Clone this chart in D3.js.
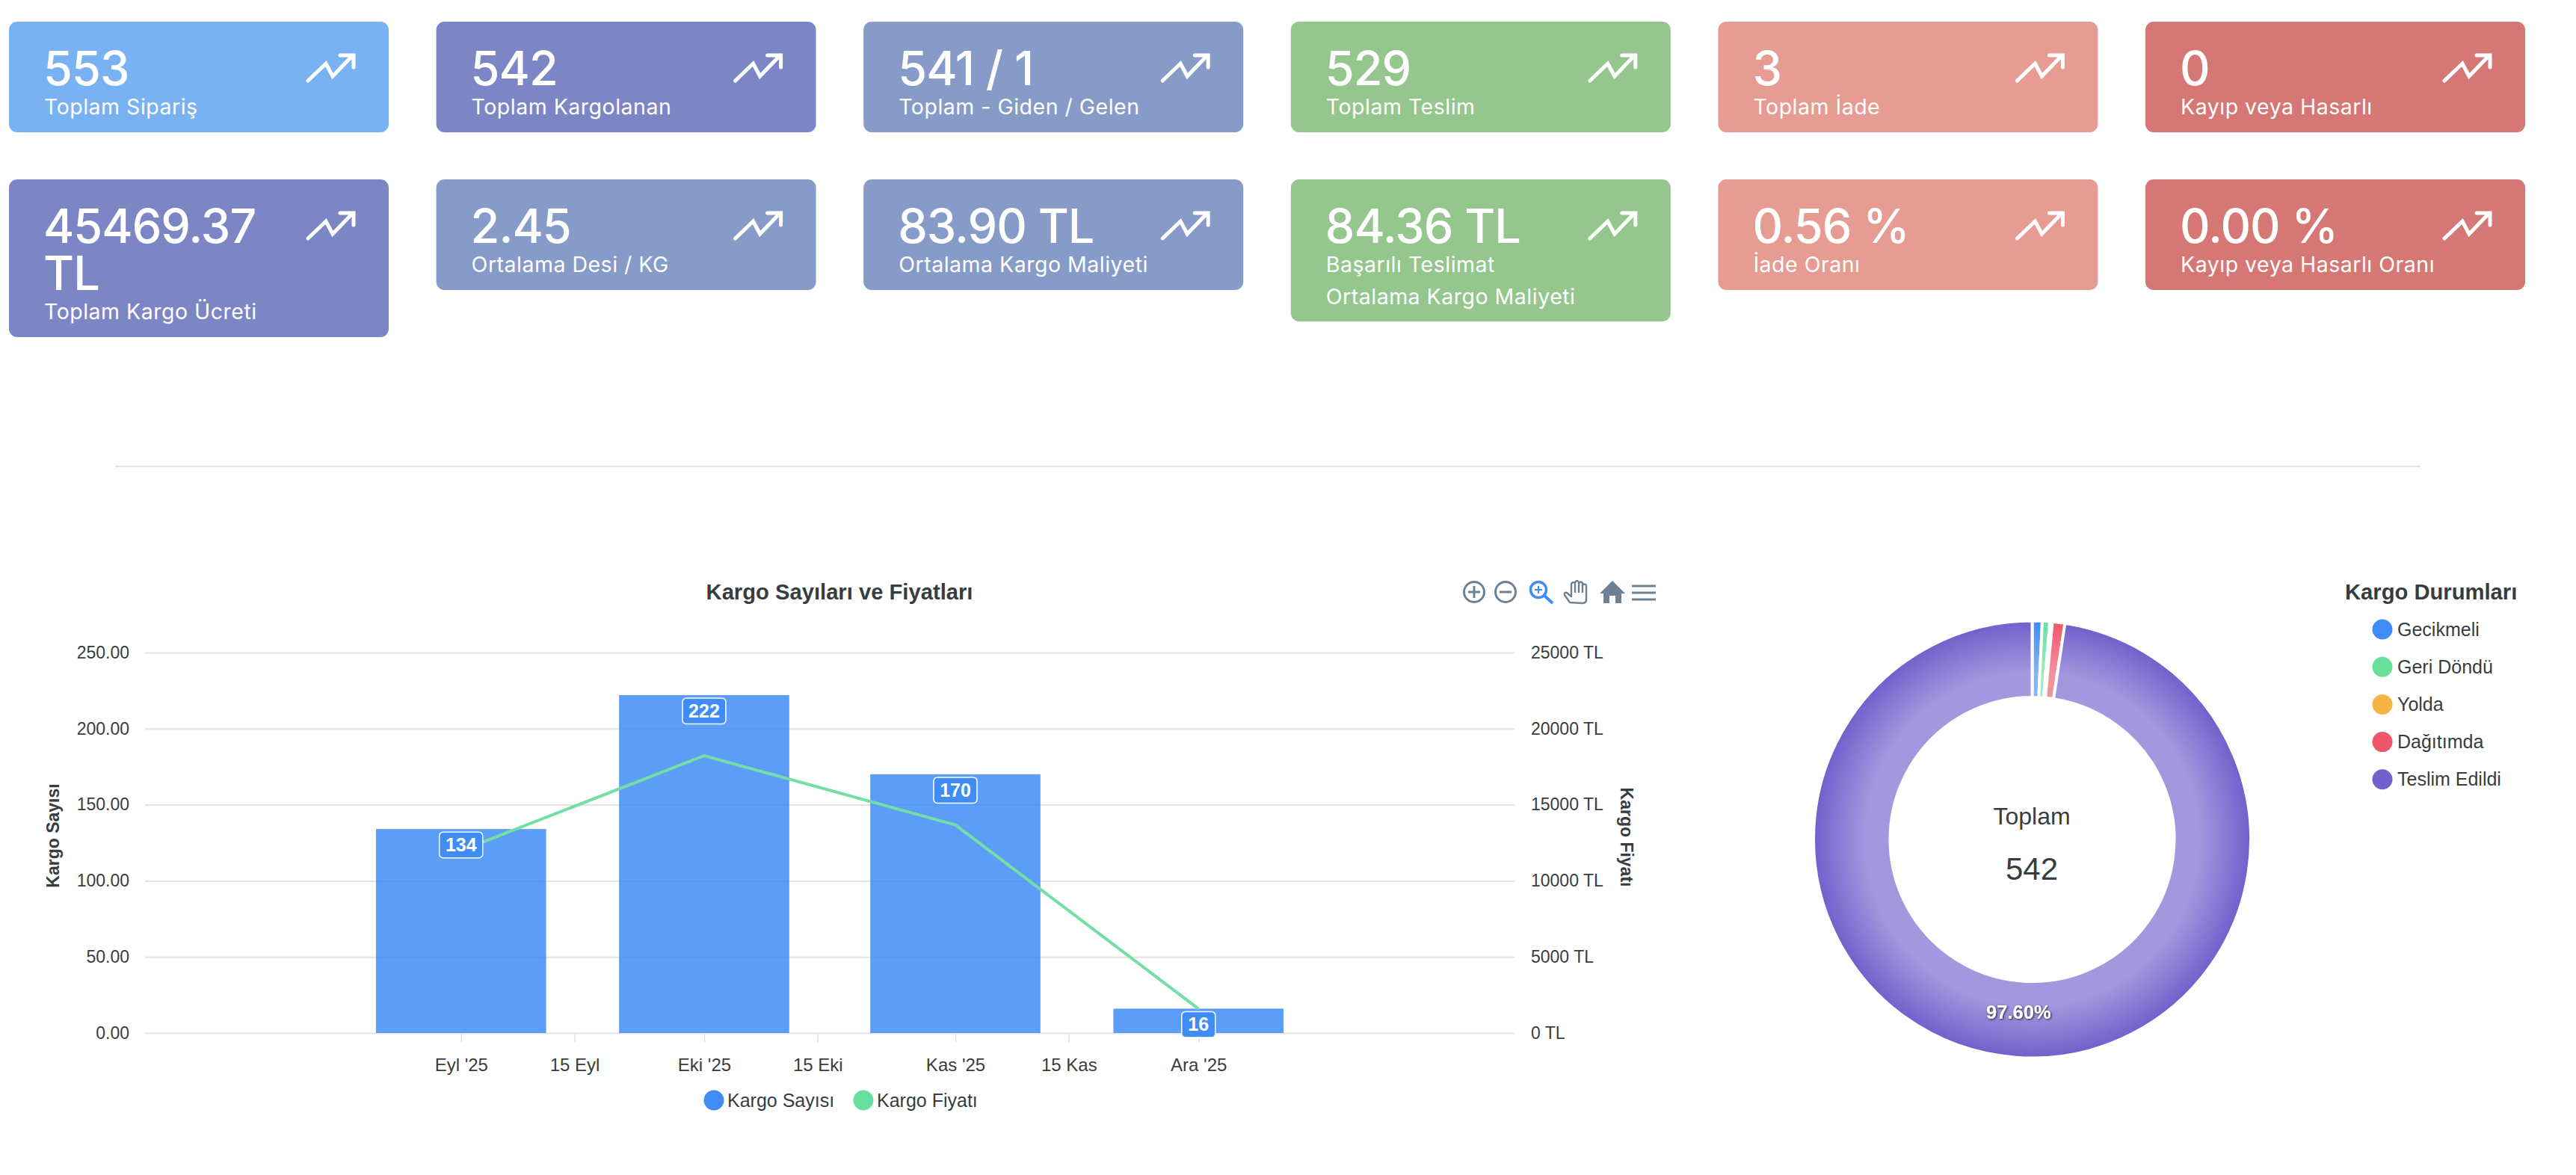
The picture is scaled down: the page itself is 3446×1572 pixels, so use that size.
<!DOCTYPE html>
<html lang="tr">
<head>
<meta charset="utf-8">
<script src="https://cdn.jsdelivr.net/npm/d3@7"></script>
<style>
html,body{margin:0;padding:0;background:#fff;}
svg{display:block;}
.chart text{font-family:"Liberation Sans",Arial,sans-serif;fill:#373d3f;}
.card text{font-family:Inter,"Noto Sans",sans-serif;fill:#fff;}
</style>
</head>
<body>
<svg id="c" class="chart" width="3446" height="1572" viewBox="0 0 3446 1572" xmlns="http://www.w3.org/2000/svg"></svg>
<script>
// ---- data ----
const cardValuesTop = ["553","542","541 / 1","529","3","0"];
const cardLabelsTop = ["Toplam Sipariş","Toplam Kargolanan","Toplam - Giden / Gelen","Toplam Teslim","Toplam İade","Kayıp veya Hasarlı"];
const cardValuesBottom = [["45469.37","TL"],["2.45"],["83.90 TL"],["84.36 TL"],["0.56 %"],["0.00 %"]];
const cardLabelsBottom = [["Toplam Kargo Ücreti"],["Ortalama Desi / KG"],["Ortalama Kargo Maliyeti"],["Başarılı Teslimat","Ortalama Kargo Maliyeti"],["İade Oranı"],["Kayıp veya Hasarlı Oranı"]];
const cardColorsTop = ["#78b2f2","#7d86c5","#879bc9","#95c68d","#e69c92","#d57775"];
const cardColorsBottom = ["#7d86c5","#879bc9","#879bc9","#95c68d","#e69c92","#d57775"];

const months = ["2025-09-01","2025-10-01","2025-11-01","2025-12-01"];
const kargoSayisi = [134,222,170,16];
const kargoFiyati = [11987,18222,13670,1590];
const xTickDates = ["2025-09-01","2025-09-15","2025-10-01","2025-10-15","2025-11-01","2025-11-15","2025-12-01"];
const xTickLabels = ["Eyl '25","15 Eyl","Eki '25","15 Eki","Kas '25","15 Kas","Ara '25"];
const yTicksLeft = [0,50,100,150,200,250];
const yTicksRight = [0,5000,10000,15000,20000,25000];
const seriesNames = ["Kargo Sayısı","Kargo Fiyatı"];

const statusNames = ["Gecikmeli","Geri Döndü","Yolda","Dağıtımda","Teslim Edildi"];
const statusCounts = [4,3,1,5,529];
const statusColors = ["#408cf5","#69df9e","#f5b544","#f0566a","#7160cc"];
const donutTotal = 542;
const donutPercent = "97.60%";

// ---- page ----
const svg = d3.select("#c");
const defs = svg.append("defs");

// cards
const cardXs = d3.range(6).map(i => 12 + i*571.6);
const cardW = 508;
function drawCards(top, values, labels, colors){
  values.forEach((val,i)=>{
    const vLines = Array.isArray(val)?val:[val];
    const lLines = Array.isArray(labels[i])?labels[i]:[labels[i]];
    const h = 148 + (vLines.length-1)*63 + (lLines.length-1)*42;
    const g = svg.append("g").attr("class","card").attr("transform",`translate(${cardXs[i]},${top})`);
    g.append("rect").attr("width",cardW).attr("height",h).attr("rx",11).attr("fill",colors[i]);
    let y = 85;
    vLines.forEach((t,k)=>{
      g.append("text").attr("x",46).attr("y",y+k*62.5).attr("font-size",63).attr("font-weight",500)
       .attr("letter-spacing",-1).text(t);
    });
    y = 85 + (vLines.length-1)*62.5 + 39;
    lLines.forEach((t,k)=>{
      g.append("text").attr("x",47).attr("y",y+k*42.5).attr("font-size",28.5).attr("font-weight",400)
       .attr("letter-spacing",0.5).text(t);
    });
    // trending-up icon
    g.append("path").attr("d","M400,79 L424,56 L433,73 L460,45 M443,45 L461,45 L461,61")
     .attr("fill","none").attr("stroke","#fff").attr("stroke-width",5)
     .attr("stroke-linecap","round").attr("stroke-linejoin","miter");
  });
}
drawCards(29, cardValuesTop, cardLabelsTop, cardColorsTop);
drawCards(240, cardValuesBottom, cardLabelsBottom, cardColorsBottom);

// divider
svg.append("line").attr("x1",154).attr("x2",3238).attr("y1",624).attr("y2",624)
   .attr("stroke","#e1e4e8").attr("stroke-width",2);

// ---- bar + line chart ----
const parse = d3.utcParse("%Y-%m-%d");
const x = d3.scaleUtc().domain([parse("2025-07-24"),parse("2026-01-09")]).range([194,2026]);
const yL = d3.scaleLinear().domain([0,250]).range([1382,873]);
const yR = d3.scaleLinear().domain([0,25000]).range([1382,873]);
const barDays = 21;
const barW = x(d3.utcDay.offset(parse(months[0]),barDays)) - x(parse(months[0]));

// grid
svg.append("g").attr("transform","translate(194,0)")
  .call(d3.axisLeft(yL).tickValues(yTicksLeft).tickSize(-(2026-194)).tickFormat(""))
  .call(g=>g.select(".domain").remove())
  .call(g=>g.selectAll("line").attr("stroke","#e3e3e3").attr("stroke-width",2));

// left axis
const axL = svg.append("g").attr("transform","translate(194,0)")
  .call(d3.axisLeft(yL).tickValues(yTicksLeft).tickSize(0).tickPadding(21).tickFormat(d=>d.toFixed(2)));
axL.select(".domain").remove();
axL.selectAll("text").attr("font-size",23).attr("font-family","Liberation Sans");

// right axis
const axR = svg.append("g").attr("transform","translate(2026,0)")
  .call(d3.axisRight(yR).tickValues(yTicksRight).tickSize(0).tickPadding(22).tickFormat(d=>d+" TL"));
axR.select(".domain").remove();
axR.selectAll("text").attr("font-size",23).attr("font-family","Liberation Sans");

// bottom axis
const axB = svg.append("g").attr("transform","translate(0,1382)")
  .call(d3.axisBottom(x).tickValues(xTickDates.map(parse)).tickSize(13).tickPadding(21)
        .tickFormat((d,i)=>xTickLabels[i]));
axB.select(".domain").remove();
axB.selectAll("line").attr("stroke","#e0e0e0").attr("stroke-width",1.5);
axB.selectAll("text").attr("font-size",24).attr("font-family","Liberation Sans");

// bars
svg.append("g").selectAll("rect").data(kargoSayisi).join("rect")
  .attr("x",(d,i)=>x(parse(months[i]))-barW/2).attr("width",barW)
  .attr("y",d=>yL(d)).attr("height",d=>yL(0)-yL(d))
  .attr("fill","#3f8cf6").attr("fill-opacity",0.85);

// line
const lineGen = d3.line().x((d,i)=>x(parse(months[i]))).y(d=>yR(d));
svg.append("path").datum(kargoFiyati).attr("d",lineGen).attr("fill","none")
  .attr("stroke","#73dfa6").attr("stroke-width",4);

// value labels
const lab = svg.append("g").selectAll("g").data(kargoSayisi).join("g")
  .attr("transform",(d,i)=>`translate(${x(parse(months[i]))},${Math.min(yL(d)+4,1356)})`);
lab.append("rect").attr("x",d=>d<100?-22.5:-29).attr("width",d=>d<100?45:58).attr("height",34.5).attr("rx",5)
  .attr("fill","#408cf5").attr("stroke","#fff").attr("stroke-width",1.5);
lab.append("text").attr("y",26).attr("text-anchor","middle").attr("font-size",25).attr("font-weight",700)
  .style("fill","#fff").text(d=>d);

// titles
svg.append("text").attr("x",1123).attr("y",802).attr("text-anchor","middle").attr("font-size",29.2)
  .attr("font-weight",700).text("Kargo Sayıları ve Fiyatları");
svg.append("text").attr("transform","translate(79,1118) rotate(-90)").attr("text-anchor","middle")
  .attr("font-size",23).attr("font-weight",700).text("Kargo Sayısı");
svg.append("text").attr("transform","translate(2168,1120) rotate(90)").attr("text-anchor","middle")
  .attr("font-size",23).attr("font-weight",700).text("Kargo Fiyatı");

// chart legend
const legendXs = [955,1155];
const chartLegend = svg.append("g").selectAll("g").data(seriesNames).join("g")
  .attr("transform",(d,i)=>`translate(${legendXs[i]},1472)`);
chartLegend.append("circle").attr("r",13.5).attr("fill",(d,i)=>statusColors[i]);
chartLegend.append("text").attr("x",18).attr("y",8.5).attr("font-size",25).text(d=>d);

// toolbar
const tb = svg.append("g").attr("fill","none").attr("stroke","#6e8192").attr("stroke-width",3);
tb.append("circle").attr("cx",1972).attr("cy",792).attr("r",13.5);
tb.append("path").attr("d","M1964,792H1980M1972,784V800");
tb.append("circle").attr("cx",2014).attr("cy",792).attr("r",13.5);
tb.append("path").attr("d","M2006,792H2022");
const zi = tb.append("g").attr("stroke","#408cf5");
zi.append("circle").attr("cx",2058).attr("cy",789).attr("r",10.5).attr("stroke-width",3.5);
zi.append("path").attr("d","M2066,797L2077,807").attr("stroke-width",4);
zi.append("path").attr("d","M2053,789H2063M2058,784V794").attr("stroke-width",2);
tb.append("path").attr("stroke-width",2.4).attr("stroke-linejoin","round").attr("stroke-linecap","round")
  .attr("d","M2100,806 L2093,796 Q2092,792 2096,793 L2102,798 L2102,781 Q2105,777 2107,781 L2107,792 L2107,779 Q2110,775 2112,779 L2112,792 L2112,780 Q2115,777 2117,780 L2117,792 L2117,783 Q2120,780 2122,783 L2122,802 Q2122,807 2117,807 Z");
svg.append("path").attr("fill","#6e8192").attr("d","M2157,777L2174,794H2169V807H2161V797H2153V807H2145V794H2140Z");
svg.append("path").attr("stroke","#6e8192").attr("stroke-width",3.2).attr("d","M2183,784H2215M2183,793H2215M2183,802H2215");

// ---- donut ----
const cx=2718.5, cy=1123, rOuter=292.5, rInner=190;
statusColors.forEach((c,i)=>{
  const light = d3.interpolateRgb(c,"#ffffff")(0.35);
  const gr = defs.append("radialGradient").attr("id","dg"+i).attr("gradientUnits","userSpaceOnUse")
    .attr("cx",0).attr("cy",0).attr("r",rOuter);
  gr.append("stop").attr("offset","0.76").attr("stop-color",light);
  gr.append("stop").attr("offset","1").attr("stop-color",c);
});
const shadow = defs.append("filter").attr("id","ts").attr("x","-20%").attr("y","-40%").attr("width","140%").attr("height","180%");
shadow.append("feDropShadow").attr("dx",1).attr("dy",1).attr("stdDeviation",1.5).attr("flood-color","#000").attr("flood-opacity",0.8);

const pie = d3.pie().sort(null).value(d=>d);
const arc = d3.arc().innerRadius(rInner).outerRadius(rOuter);
const arcs = pie(statusCounts);
svg.append("g").attr("transform",`translate(${cx},${cy})`)
  .selectAll("path").data(arcs).join("path")
  .attr("d",arc)
  .attr("fill",(d,i)=>`url(#dg${i})`)
  .attr("stroke","#fff").attr("stroke-width",4);
const [mx,my] = d3.arc().innerRadius(192).outerRadius(290).centroid(arcs[4]);
svg.append("text").attr("x",cx+mx).attr("y",cy+my)
  .attr("text-anchor","middle").attr("font-size",25.5).attr("font-weight",700)
  .attr("filter","url(#ts)").style("fill","#fff").text(donutPercent);
svg.append("text").attr("x",2718).attr("y",1103).attr("text-anchor","middle").attr("font-size",32).text("Toplam");
svg.append("text").attr("x",2718).attr("y",1177).attr("text-anchor","middle").attr("font-size",42).text(donutTotal);

// donut legend
svg.append("text").attr("x",3137).attr("y",802).attr("font-size",29.2).attr("font-weight",700).text("Kargo Durumları");
const dl = svg.append("g").selectAll("g").data(statusNames).join("g")
  .attr("transform",(d,i)=>`translate(3187,${842+i*50.2})`);
dl.append("circle").attr("r",13.5).attr("fill",(d,i)=>statusColors[i]);
dl.append("text").attr("x",20).attr("y",8.5).attr("font-size",25).text(d=>d);
</script>
</body>
</html>
